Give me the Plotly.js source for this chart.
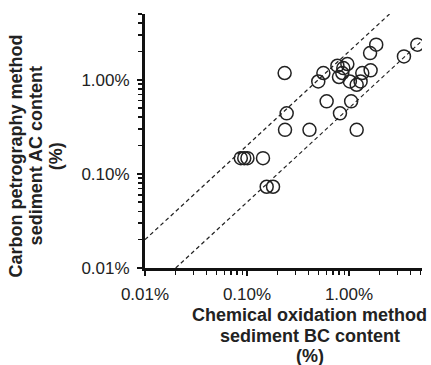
<!DOCTYPE html>
<html><head><meta charset="utf-8">
<script src="https://cdn.plot.ly/plotly-3.0.1.min.js"></script>
<style>html,body{margin:0;padding:0;background:#fff}#c{width:431px;height:365px}</style>
</head><body><div id="c"></div>
<script>
// Chemical oxidation BC content (%) vs carbon petrography AC content (%)
var bcContent = [0.234, 0.245, 0.236, 0.41, 0.087, 0.094, 0.101, 0.1435, 0.156, 0.18,
  0.50, 0.561, 0.604, 0.77, 0.798, 0.816, 0.88, 0.86, 0.964, 1.02, 1.05, 1.19, 1.19,
  1.30, 1.35, 1.63, 1.61, 1.85, 3.46, 4.68];
var acContent = [1.18, 0.44, 0.294, 0.294, 0.147, 0.147, 0.147, 0.147, 0.073, 0.073,
  0.96, 1.18, 0.59, 1.41, 1.07, 0.44, 1.33, 1.18, 1.47, 0.96, 0.59, 0.294, 0.885,
  0.96, 1.18, 1.26, 1.92, 2.36, 1.77, 2.36];
// reference lines (factor-of-two bounds)
var upperLineX = [0.01, 2.5], upperLineY = [0.02, 5];
var lowerLineX = [0.02, 5],   lowerLineY = [0.01, 2.5];
var tickValues = [0.01, 0.1, 1];
var tickLabels = ['0.01%', '0.10%', '1.00%'];
var minorValues = [];
[0.01, 0.1, 1].forEach(function (d) { for (var k = 2; k <= 9; k++) minorValues.push(d * k); });

var axisFont = {family: 'Liberation Sans, Arial, sans-serif', size: 17, color: '#222'};
var dashed = {color: '#222', width: 1.2, dash: '4px,3px'};
var traces = [
  {x: upperLineX, y: upperLineY, mode: 'lines', line: dashed, hoverinfo: 'skip'},
  {x: lowerLineX, y: lowerLineY, mode: 'lines', line: dashed, hoverinfo: 'skip'},
  {x: bcContent, y: acContent, mode: 'markers',
   marker: {symbol: 'circle-open', size: 13, color: '#222', line: {width: 1.5, color: '#222'}}}
];
function axis(range) {
  return {type: 'log', range: range, showgrid: false, zeroline: false,
    showline: true, linewidth: 3, linecolor: '#111',
    tickmode: 'array', tickvals: tickValues, ticktext: tickLabels,
    ticks: 'outside', ticklen: 5, tickwidth: 2, tickcolor: '#111',
    tickfont: axisFont, ticklabelstandoff: 4,
    minor: {tickmode: 'array', tickvals: minorValues, ticks: 'outside', ticklen: 4, tickwidth: 1.5, tickcolor: '#111'}};
}
var titleFont = {family: 'Liberation Sans, Arial, sans-serif', size: 18, color: '#222', weight: 'bold'};
var xTitle = ['Chemical oxidation method', 'sediment BC content', '(%)'];
var yTitle = ['Carbon petrography method', 'sediment AC content', '(%)'];
var ann = [];
xTitle.forEach(function (t, i) {
  ann.push({text: '<b>' + t + '</b>', xref: 'paper', yref: 'paper', x: 0.595, y: -0.186 - i * 0.08,
    xanchor: 'center', yanchor: 'middle', showarrow: false, font: titleFont});
});
yTitle.forEach(function (t, i) {
  ann.push({text: '<b>' + t + '</b>', xref: 'paper', yref: 'paper', x: -0.465 + i * 0.072, y: 0.44,
    xanchor: 'center', yanchor: 'middle', textangle: -90, showarrow: false, font: titleFont});
});
var layout = {
  width: 431, height: 365, margin: {l: 145, r: 9, t: 14, b: 97},
  paper_bgcolor: '#fff', plot_bgcolor: '#fff', showlegend: false,
  xaxis: axis([-2, Math.log10(5.2)]),
  yaxis: axis([-2, Math.log10(5.0)]),
  annotations: ann
};
Plotly.newPlot('c', traces, layout, {displayModeBar: false, staticPlot: true});
</script></body></html>
